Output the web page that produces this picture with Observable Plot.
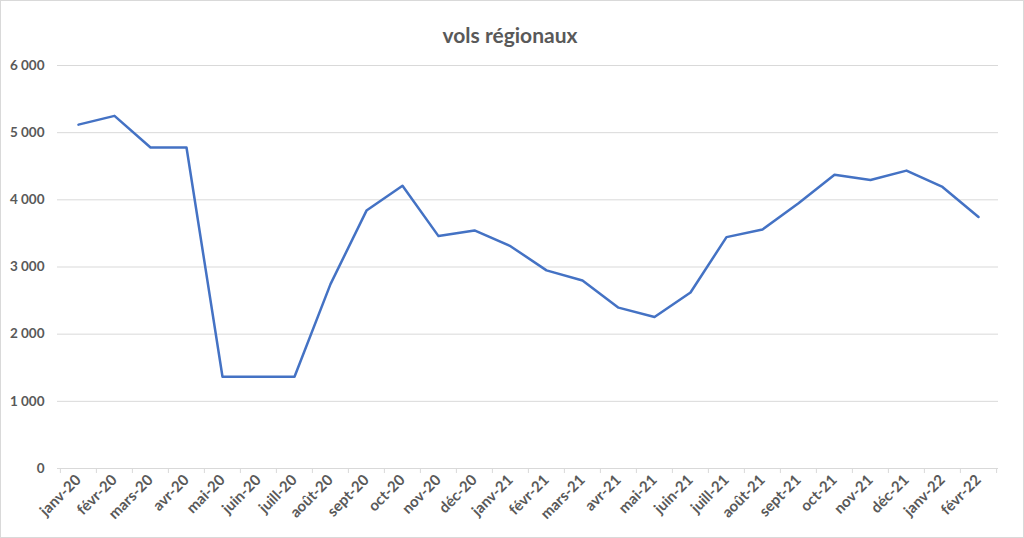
<!DOCTYPE html>
<html>
<head>
<meta charset="utf-8">
<script src="https://cdn.jsdelivr.net/npm/d3@7"></script>
<script src="https://cdn.jsdelivr.net/npm/@observablehq/plot@0.6"></script>
<style>
  html, body { margin: 0; padding: 0; background: #fff; }
  #chart { width: 1022px; height: 536px; border: 1px solid #d9d9d9; position: relative; overflow: hidden; font-family: Lato, "Open Sans", sans-serif; }
  #title { height: 49px; text-align: center; font-size: 21px; font-weight: 700; color: #595959; line-height: 74px; }
  #title span { position: relative; top: -3px; left: -2px; }
  svg { display: block; }
</style>
</head>
<body>
<div id="chart"><div id="title"><span>vols régionaux</span></div></div>
<script>
const months = ["janv-20","févr-20","mars-20","avr-20","mai-20","juin-20","juill-20","août-20","sept-20","oct-20","nov-20","déc-20",
  "janv-21","févr-21","mars-21","avr-21","mai-21","juin-21","juill-21","août-21","sept-21","oct-21","nov-21","déc-21",
  "janv-22","févr-22"];
const flights = [5120,5250,4780,4780,1365,1365,1365,2745,3840,4210,3460,3545,
  3310,2950,2800,2395,2255,2620,3445,3558,3950,4375,4295,4435,4192,3745];
const yTicks = [0,1000,2000,3000,4000,5000,6000];

const data = months.map((m, i) => ({month: m, value: flights[i]}));
const width = 1022, height = 487;
const ml = 56, mr = 25, mt = 15, mb = 69;
const step = (width - ml - mr) / months.length;
const fmt = d => d3.format(",")(d).replace(/,/g, " ");

const plot = Plot.plot({
  width, height,
  marginLeft: ml, marginRight: mr, marginTop: mt, marginBottom: mb,
  style: {fontFamily: "Lato, 'Open Sans', sans-serif", fontSize: "13px", fontWeight: 700, color: "#595959", background: "#fff"},
  x: {type: "band", domain: months, padding: 0, label: null},
  y: {domain: [0, 6000], label: null},
  marks: [
    Plot.ruleY(yTicks, {stroke: "#d9d9d9", strokeWidth: 1}),
    Plot.ruleX(months, {x: d => d, dx: -step / 2, y1: 0, y2: 0, insetBottom: -5, stroke: "#d9d9d9"}),
    Plot.ruleX(months.slice(-1), {x: d => d, dx: step / 2, y1: 0, y2: 0, insetBottom: -5, stroke: "#d9d9d9"}),
    Plot.axisY(yTicks, {tickSize: 0, tickPadding: 13, tickFormat: fmt, fontSize: 13.5, fill: "#595959"}),
    Plot.axisX({tickSize: 0, tickPadding: 9, tickRotate: -45, fontSize: 15, fill: "#595959"}),
    Plot.line(data, {x: "month", y: "value", stroke: "#4472c4", strokeWidth: 2.5, strokeLinejoin: "round"})
  ]
});
document.getElementById("chart").appendChild(plot);
</script>
</body>
</html>
